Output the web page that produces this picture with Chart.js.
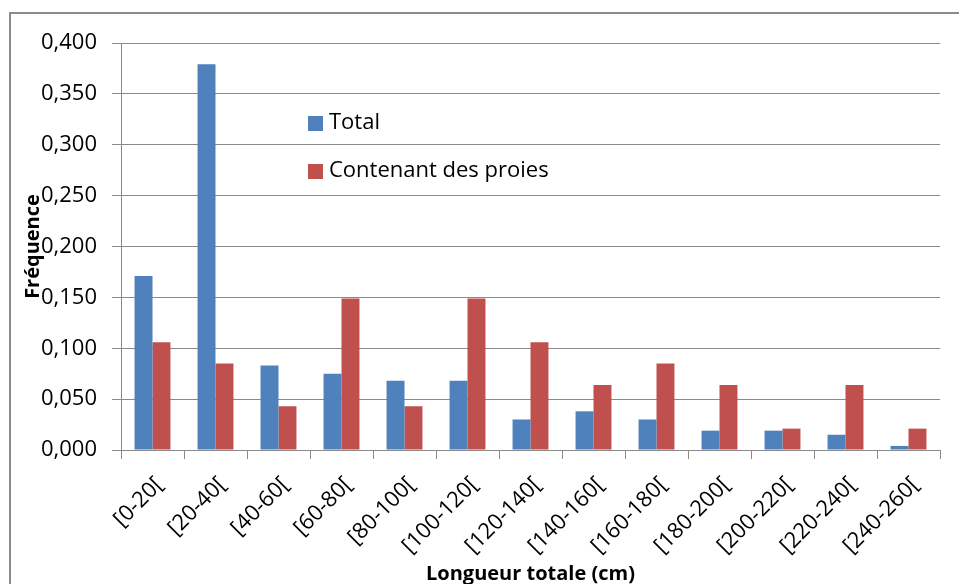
<!DOCTYPE html>
<html>
<head>
<meta charset="utf-8">
<script src="https://cdn.jsdelivr.net/npm/chart.js@4"></script>
<style>
    body { margin: 0; background: #fff; }
    canvas { display: block; }
</style>
</head>
<body>
<canvas id="chart" width="959" height="584"></canvas>
<script>
// Categories (length classes) and series values
const categories = ['[0-20[', '[20-40[', '[40-60[', '[60-80[', '[80-100[', '[100-120[', '[120-140[',
    '[140-160[', '[160-180[', '[180-200[', '[200-220[', '[220-240[', '[240-260['];
const totalValues = [0.171, 0.379, 0.083, 0.075, 0.068, 0.068, 0.030, 0.038, 0.030, 0.019, 0.019, 0.015, 0.004];
const preyValues = [0.106, 0.085, 0.043, 0.149, 0.043, 0.149, 0.106, 0.064, 0.085, 0.064, 0.021, 0.064, 0.021];
const seriesNames = ['Total', 'Contenant des proies'];
const yTitle = 'Fréquence';
const xTitle = 'Longueur totale (cm)';

const FONT = '"Open Sans", sans-serif';
const GRID = '#8a8a8a';

// Frame, axis titles and the legend inside the plot
const decorations = {
    id: 'decorations',
    afterDraw(chart) {
        const ctx = chart.ctx;
        const area = chart.chartArea;
        ctx.save();
        // outer frame
        ctx.strokeStyle = '#8c8c8c';
        ctx.lineWidth = 2;
        ctx.strokeRect(10, 13, 1000, 700);

        // axis titles
        ctx.fillStyle = '#000';
        ctx.font = 'bold 20px ' + FONT;
        ctx.textAlign = 'center';
        ctx.textBaseline = 'middle';
        ctx.fillText(xTitle, (area.left + area.right) / 2, 574);
        ctx.save();
        ctx.translate(33, (area.top + area.bottom) / 2);
        ctx.rotate(-Math.PI / 2);
        ctx.fillText(yTitle, 0, 0);
        ctx.restore();

        // legend
        ctx.font = '22px ' + FONT;
        ctx.textAlign = 'left';
        chart.data.datasets.forEach((ds, i) => {
            const x = area.left + 187;
            const y = area.top + 80 + i * 48;
            ctx.fillStyle = ds.backgroundColor;
            ctx.fillRect(x, y - 7, 15, 15);
            ctx.fillStyle = '#000';
            ctx.fillText(ds.label, x + 21, y);
        });
        ctx.restore();
    }
};

const chart = new Chart(document.getElementById('chart').getContext('2d'), {
    type: 'bar',
    data: {
        labels: categories,
        datasets: [{
            label: seriesNames[0],
            data: totalValues,
            backgroundColor: '#4f81bd'
        }, {
            label: seriesNames[1],
            data: preyValues,
            backgroundColor: '#c0504d'
        }]
    },
    options: {
        responsive: false,
        animation: false,
        layout: {
            padding: { left: 0, top: 43, right: 19, bottom: 0 }
        },
        datasets: {
            bar: {
                categoryPercentage: 0.57,
                barPercentage: 1.0
            }
        },
        plugins: {
            legend: { display: false },
            tooltip: { enabled: false }
        },
        scales: {
            x: {
                afterFit: (scale) => { scale.height = 134; },
                grid: {
                    offset: true,
                    drawOnChartArea: false,
                    drawTicks: true,
                    tickLength: 9,
                    color: GRID
                },
                border: { color: GRID, width: 1 },
                ticks: {
                    color: '#000',
                    font: { family: FONT, size: 22 },
                    minRotation: 45,
                    maxRotation: 45,
                    autoSkip: false,
                    padding: 13,
                    labelOffset: 7
                }
            },
            y: {
                min: 0,
                max: 0.4,
                afterFit: (scale) => { scale.width = 121; },
                grid: {
                    color: GRID,
                    tickLength: 9
                },
                border: { color: GRID, width: 1 },
                ticks: {
                    stepSize: 0.05,
                    color: '#000',
                    font: { family: FONT, size: 22 },
                    padding: 15,
                    callback: (v) => v.toFixed(3).replace('.', ',')
                }
            }
        }
    },
    plugins: [decorations]
});
</script>
</body>
</html>
